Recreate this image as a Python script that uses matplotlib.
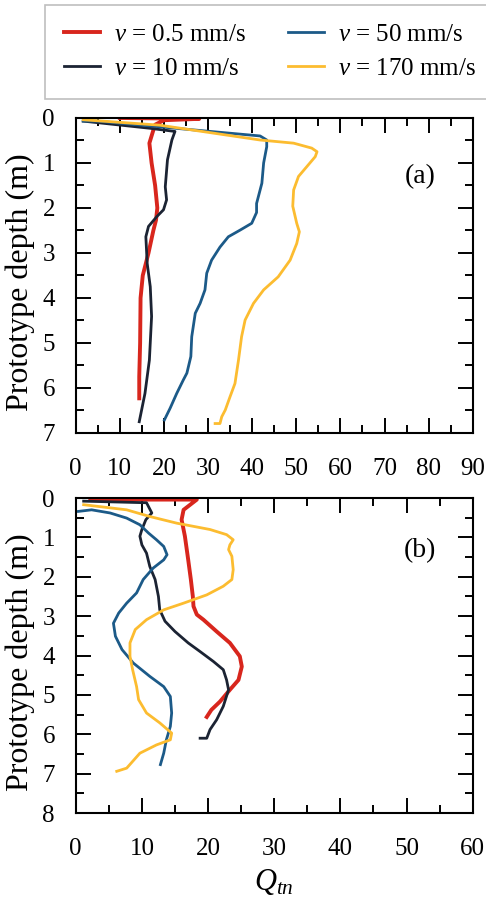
import numpy as np
import matplotlib.pyplot as plt
from matplotlib.ticker import MultipleLocator

plt.rcParams["font.family"] = ["Liberation Serif", "DejaVu Serif"]
plt.rcParams["mathtext.fontset"] = "custom"
plt.rcParams["mathtext.rm"] = "Liberation Serif"
plt.rcParams["mathtext.it"] = "Liberation Serif:italic"

labels = ["$v$ = 0.5 mm/s", "$v$ = 10 mm/s", "$v$ = 50 mm/s", "$v$ = 170 mm/s"]
colors = ["#d8261d", "#1b2333", "#1c5a88", "#fcbc30"]

# ---- panel (a): depth (m) vs Qtn
a_red_d = [0.0, 0.02, 0.05, 0.15, 0.27, 0.56, 1.0, 1.5, 2.0, 2.27, 2.5, 3.0, 3.5, 4.0, 5.0, 5.75, 6.23]
a_red_q = [10, 28, 20, 18, 17.6, 16.7, 17.2, 18.0, 18.5, 18.2, 17.6, 16.5, 15.2, 14.7, 14.6, 14.4, 14.4]

a_blk_d = [0.07, 0.23, 0.30, 0.49, 0.93, 1.53, 1.82, 2.04, 2.19, 2.41, 2.64, 3.23, 3.75, 4.41, 5.38, 6.12, 6.75]
a_blk_q = [1.7, 16.9, 22.5, 21.8, 20.8, 20.3, 20.6, 19.9, 18.4, 16.5, 15.9, 16.2, 16.9, 17.2, 16.7, 15.7, 14.4]

a_blu_d = [0.07, 0.07, 0.40, 0.49, 0.64, 1.0, 1.45, 1.9, 2.1, 2.34, 2.49, 2.64, 2.87, 3.16, 3.45,
           3.82, 4.12, 4.34, 4.86, 5.3, 5.67, 5.82, 6.12, 6.45, 6.71]
a_blu_q = [1.7, 4.8, 41.8, 43.3, 43.3, 42.6, 42.2, 41.0, 41.0, 39.9, 37.3, 34.6, 32.7, 30.8, 29.7,
           29.3, 28.2, 27.1, 26.3, 26.1, 25.2, 24.4, 22.9, 21.4, 20.1]

a_yel_d = [0.04, 0.16, 0.49, 0.56, 0.67, 0.75, 0.86, 1.08, 1.3, 1.6, 1.96, 2.34, 2.53, 2.79, 3.16,
           3.53, 3.82, 4.12, 4.49, 4.86, 5.38, 5.9, 6.19, 6.49, 6.64, 6.79, 6.79]
a_yel_q = [1.7, 19.0, 41.8, 49.4, 53.5, 54.7, 54.3, 52.4, 50.5, 49.4, 49.2, 50.1, 50.7, 50.1, 48.6,
           45.9, 42.6, 40.3, 38.4, 37.6, 36.9, 36.1, 35.0, 33.9, 33.1, 32.7, 31.6]

# ---- panel (b)
b_red_d = [0.04, 0.04, 0.30, 0.55, 0.97, 1.57, 2.07, 2.5, 2.75, 2.96, 3.09, 3.39, 3.68, 4.02, 4.28,
           4.62, 4.87, 5.17, 5.38, 5.56]
b_red_q = [2.2, 18.3, 16.3, 16.0, 16.5, 17.0, 17.4, 17.7, 17.8, 18.3, 19.3, 21.3, 23.3, 24.8, 25.1,
           24.6, 23.3, 21.8, 20.5, 19.8]

b_blk_d = [0.08, 0.12, 0.38, 0.55, 0.8, 0.97, 1.19, 1.4, 1.74, 2.07, 2.5, 2.84, 3.13, 3.39, 3.68,
           3.9, 4.15, 4.36, 4.62, 4.87, 5.29, 5.63, 5.88, 6.1, 6.1]
b_blk_q = [1.2, 10.7, 11.5, 10.6, 10.0, 9.7, 10.0, 10.7, 11.2, 12.0, 12.5, 12.7, 13.5, 15.0, 17.0,
           18.8, 20.8, 22.3, 22.8, 23.1, 22.3, 21.3, 20.3, 19.8, 18.8]

b_blu_d = [0.34, 0.30, 0.38, 0.51, 0.68, 0.89, 1.06, 1.23, 1.44, 1.57, 1.78, 2.07, 2.41, 2.67, 2.92,
           3.18, 3.51, 3.85, 4.19, 4.53, 4.79, 5.04, 5.46, 5.8, 6.14, 6.48, 6.77]
b_blu_q = [0.4, 2.4, 5.2, 7.7, 9.7, 11.0, 12.2, 13.3, 13.8, 13.3, 11.7, 10.2, 9.2, 7.7, 6.5,
           5.7, 6.0, 7.0, 8.7, 11.2, 13.3, 14.3, 14.5, 14.3, 13.7, 13.3, 12.8]

b_yel_d = [0.17, 0.30, 0.47, 0.64, 0.8, 0.93, 1.06, 1.19, 1.31, 1.48, 1.82, 2.07, 2.24, 2.46, 2.67,
           2.84, 3.09, 3.34, 3.68, 4.02, 4.36, 4.79, 5.12, 5.46, 5.71, 5.97, 6.14, 6.27, 6.48, 6.86, 6.94]
b_yel_q = [1.2, 7.7, 11.2, 15.3, 20.3, 22.8, 23.8, 23.3, 23.1, 23.6, 23.8, 23.6, 22.3, 19.8, 16.3,
           13.3, 10.7, 9.0, 8.2, 8.2, 8.6, 9.2, 9.5, 10.7, 12.7, 14.5, 14.3, 12.2, 9.7, 7.7, 6.2]

panel_a = [(a_red_q, a_red_d), (a_blk_q, a_blk_d), (a_blu_q, a_blu_d), (a_yel_q, a_yel_d)]
panel_b = [(b_red_q, b_red_d), (b_blk_q, b_blk_d), (b_blu_q, b_blu_d), (b_yel_q, b_yel_d)]
widths = [2.8, 2.0, 2.0, 2.0]

fig = plt.figure(figsize=(4.86, 8.97), dpi=100)
ax_a = fig.add_axes([0.1558, 0.5173, 0.8169, 0.3512])
ax_b = fig.add_axes([0.1558, 0.0936, 0.8169, 0.3512])


def style(ax, xmax, ymax, tag, tag_y):
    ax.set_xlim(0, xmax)
    ax.set_ylim(ymax, 0)
    ax.xaxis.set_major_locator(MultipleLocator(10))
    ax.xaxis.set_minor_locator(MultipleLocator(5))
    ax.yaxis.set_major_locator(MultipleLocator(1))
    ax.yaxis.set_minor_locator(MultipleLocator(0.5))
    ax.tick_params(which="both", direction="in", top=True, right=True, width=1.4,
                   labelsize=18)
    ax.tick_params(axis="x", pad=18)
    ax.tick_params(axis="y", pad=15)
    ax.tick_params(which="major", length=11)
    ax.tick_params(which="minor", length=6)
    for s in ax.spines.values():
        s.set_linewidth(1.5)
    ax.set_ylabel("Prototype depth (m)", fontsize=23)
    ax.yaxis.set_label_coords(-0.103, 0.48)
    ax.text(0.867, tag_y, tag, transform=ax.transAxes, fontsize=20, ha="center", va="center")


handles = []
for (q, d), c, lw, lab in zip(panel_a, colors, widths, labels):
    h, = ax_a.plot(q, d, color=c, lw=lw, label=lab)
    handles.append(h)
for (q, d), c, lw in zip(panel_b, colors, widths):
    ax_b.plot(q, d, color=c, lw=lw)

style(ax_a, 90, 7, "(a)", 0.815)
style(ax_b, 60, 8, "(b)", 0.832)
ax_b.set_xlabel("$Q_{tn}$", fontsize=22)
ax_b.xaxis.label.set_va("baseline")
ax_b.xaxis.set_label_coords(0.5, -0.245)

fig.legend(handles=handles, ncol=2, loc="upper left", bbox_to_anchor=(45 / 486, 1 - 5 / 897),
           borderaxespad=0, fontsize=18, fancybox=False, edgecolor="#bfbfbf",
           handlelength=1.45, columnspacing=1.7, handletextpad=0.55, labelspacing=0.45,
           borderpad=0.75, framealpha=1)
fig.legends[0].get_frame().set_linewidth(1.2)

fig.savefig("out.png", dpi=100)
